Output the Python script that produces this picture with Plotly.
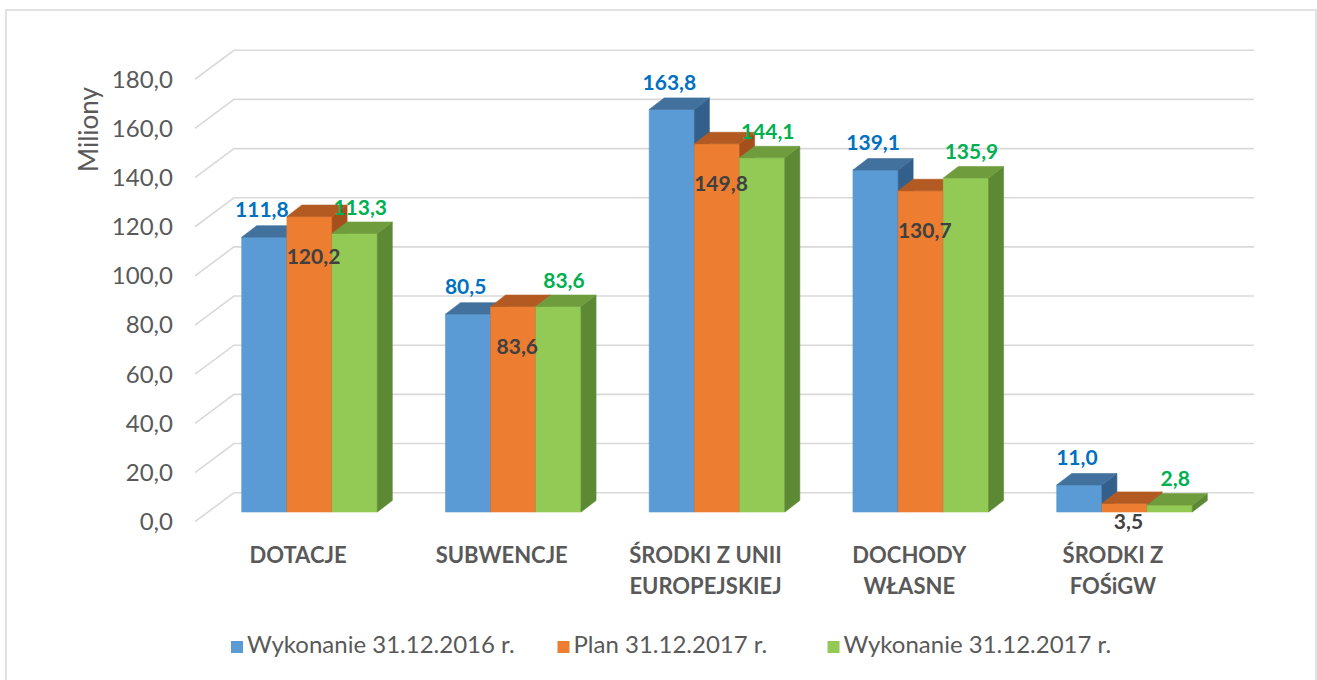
import plotly.graph_objects as go

# ---------------- data ----------------
CATEGORIES = ["DOTACJE", "SUBWENCJE", "ŚRODKI Z UNII<br>EUROPEJSKIEJ", "DOCHODY<br>WŁASNE", "ŚRODKI Z<br>FOŚiGW"]
SERIES_NAMES = ["Wykonanie 31.12.2016 r.", "Plan 31.12.2017 r.", "Wykonanie 31.12.2017 r."]
WYKONANIE_2016 = [111.8, 80.5, 163.8, 139.1, 11.0]
PLAN_2017 = [120.2, 83.6, 149.8, 130.7, 3.5]
WYKONANIE_2017 = [113.3, 83.6, 144.1, 135.9, 2.8]
Y_TICKS = [0, 20, 40, 60, 80, 100, 120, 140, 160, 180]
Y_TITLE = "Miliony"

SERIES = [WYKONANIE_2016, PLAN_2017, WYKONANIE_2017]

# ---------------- style / geometry ----------------
W, H = 1317, 680
PX_PER_UNIT = 2.458          # vertical scale (px per million)
PX_PER_CAT = 203.75          # horizontal spacing of categories (px)
CAT0_PX = 309.5              # pixel x of first group centre
FLOOR_PX = 521.7             # pixel y of value 0 on the front edge
LEFT_MARGIN = 180

def ux(px):   # pixel distance -> category units
    return px / PX_PER_CAT

def uy(px):   # pixel distance -> value units
    return px / PX_PER_UNIT

def py(pixel_y):  # absolute pixel y -> value units
    return (FLOOR_PX - pixel_y) / PX_PER_UNIT

BAR_W = ux(45.2)
BAR_BASE = uy(9.7)
DEPTH_X = ux(15.0)
DEPTH_Y = uy(11.5)
WALL_FRONT_X = ux(195 - CAT0_PX)
WALL_BACK_X = ux(234 - CAT0_PX)
WALL_RIGHT_X = ux(1254 - CAT0_PX)
WALL_DY = uy(29.0)

FRONT = ["#5B9BD5", "#ED7D31", "#93C955"]
TOP = ["#41719C", "#B35A22", "#6F9D3E"]
SIDE = ["#33608A", "#A54F1C", "#5D8935"]
LABEL_COLORS = ["#0070C0", "#404040", "#00B050"]
TEXT_GRAY = "#595959"
GRID = "#D9D9D9"
FONT = "Lato"

X_RANGE = [ux(LEFT_MARGIN - CAT0_PX), ux(W - CAT0_PX)]
Y_RANGE = [-uy(H - FLOOR_PX), uy(FLOOR_PX)]

fig = go.Figure()

# ---- back wall / side wall gridlines ----
gx, gy = [], []
for t in Y_TICKS:
    gx += [WALL_FRONT_X, WALL_BACK_X, WALL_RIGHT_X, None]
    gy += [t, t + WALL_DY, t + WALL_DY, None]
fig.add_trace(go.Scatter(x=gx, y=gy, mode="lines", line=dict(color=GRID, width=1.6),
                         hoverinfo="skip", showlegend=False))

# ---- 3D bars ----
n_series = len(SERIES)
for k, values in enumerate(SERIES):
    fx, fy, sx, sy, tx, ty = [], [], [], [], [], []
    for i, v in enumerate(values):
        x0 = i + (k - n_series / 2) * BAR_W
        x1 = x0 + BAR_W
        b = BAR_BASE
        t = BAR_BASE + v
        fx += [x0, x1, x1, x0, x0, None]
        fy += [b, b, t, t, b, None]
        sx += [x1, x1 + DEPTH_X, x1 + DEPTH_X, x1, x1, None]
        sy += [b, b + DEPTH_Y, t + DEPTH_Y, t, b, None]
        tx += [x0, x1, x1 + DEPTH_X, x0 + DEPTH_X, x0, None]
        ty += [t, t, t + DEPTH_Y, t + DEPTH_Y, t, None]
    for xs, ys, col in ((fx, fy, FRONT[k]), (sx, sy, SIDE[k]), (tx, ty, TOP[k])):
        fig.add_trace(go.Scatter(x=xs, y=ys, mode="lines", fill="toself", fillcolor=col,
                                 line=dict(color=col, width=0.6), hoverinfo="skip",
                                 showlegend=False, name=SERIES_NAMES[k]))

# ---- data labels ----
def centres(k):
    return [i + (k - n_series / 2 + 0.5) * BAR_W for i in range(len(CATEGORIES))]

lab_font = dict(family=FONT, size=21, weight="bold")
# series 1: above bar
fig.add_trace(go.Scatter(
    x=[c - ux(2.4) for c in centres(0)],
    y=[BAR_BASE + v + uy(25) for v in WYKONANIE_2016],
    mode="text", text=WYKONANIE_2016, texttemplate="%{text:.1f}", textposition="middle center",
    textfont=dict(color=LABEL_COLORS[0], **lab_font), hoverinfo="skip", showlegend=False))
# series 2: inside, below the top
fig.add_trace(go.Scatter(
    x=[c + ux(4) for c in centres(1)],
    y=[max(BAR_BASE + v - uy(42), BAR_BASE - uy(12)) for v in PLAN_2017],
    mode="text", text=PLAN_2017, texttemplate="%{text:.1f}", textposition="middle center",
    textfont=dict(color=LABEL_COLORS[1], **lab_font), hoverinfo="skip", showlegend=False))
# series 3: above bar
fig.add_trace(go.Scatter(
    x=[c + ux(5.5) for c in centres(2)],
    y=[BAR_BASE + v + uy(24) for v in WYKONANIE_2017],
    mode="text", text=WYKONANIE_2017, texttemplate="%{text:.1f}", textposition="middle center",
    textfont=dict(color=LABEL_COLORS[2], **lab_font), hoverinfo="skip", showlegend=False))

# ---- category labels (one trace per text line) ----
cat_lines = [c.split("<br>") for c in CATEGORIES]
LINE_Y_PX = [557, 588]
for li, ypx in enumerate(LINE_Y_PX):
    xs, txt = [], []
    for i, lines in enumerate(cat_lines):
        if li < len(lines):
            xs.append(i - ux(11.5))
            txt.append(lines[li])
    fig.add_trace(go.Scatter(
        x=xs, y=[py(ypx)] * len(xs), mode="text", text=txt, textposition="middle center",
        textfont=dict(family=FONT, size=22, weight="bold", color=TEXT_GRAY),
        hoverinfo="skip", showlegend=False))

# ---- legend (manual, positioned like the original) ----
LEG_SQ_PX = [237, 563.5, 833.5]
LEG_Y = py(647)
fig.add_trace(go.Scatter(
    x=[ux(p - CAT0_PX) for p in LEG_SQ_PX], y=[LEG_Y] * 3, mode="markers",
    marker=dict(symbol="square", size=12, color=FRONT, line=dict(width=0)),
    hoverinfo="skip", showlegend=False))
fig.add_trace(go.Scatter(
    x=[ux(p + 10 - CAT0_PX) for p in LEG_SQ_PX], y=[LEG_Y] * 3, mode="text",
    text=SERIES_NAMES, textposition="middle right",
    textfont=dict(family=FONT, size=24, color=TEXT_GRAY),
    hoverinfo="skip", showlegend=False))

# ---- layout ----
fig.update_layout(
    width=W, height=H,
    margin=dict(l=LEFT_MARGIN, r=0, t=0, b=0, pad=0),
    paper_bgcolor="white", plot_bgcolor="white",
    separators=", ",
    showlegend=False,
    hovermode=False,
    xaxis=dict(range=X_RANGE, visible=False, fixedrange=True),
    yaxis=dict(range=Y_RANGE, tickvals=Y_TICKS, tickformat=".1f", showgrid=False,
               zeroline=False, showline=False, ticks="", automargin=False,
               ticklabelstandoff=6,
               tickfont=dict(family=FONT, size=24, color=TEXT_GRAY), fixedrange=True),
    annotations=[dict(text=Y_TITLE, xref="paper", yref="paper",
                      x=(88 - LEFT_MARGIN) / (W - LEFT_MARGIN), y=1 - 130 / H,
                      xanchor="center", yanchor="middle", textangle=-90, showarrow=False,
                      font=dict(family=FONT, size=26, color=TEXT_GRAY))],
    shapes=[dict(type="rect", xref="paper", yref="paper",
                 x0=(6 - LEFT_MARGIN) / (W - LEFT_MARGIN), x1=(1316 - LEFT_MARGIN) / (W - LEFT_MARGIN),
                 y0=-0.05, y1=1 - 10 / H, line=dict(color=GRID, width=1.5), layer="below")],
)

fig.write_html(
    "out.html",
    config={"displayModeBar": False, "staticPlot": True},
    post_script="document.body.style.margin='0px';"
                "document.body.style.overflow='hidden';"
                "document.documentElement.style.overflow='hidden';",
)
